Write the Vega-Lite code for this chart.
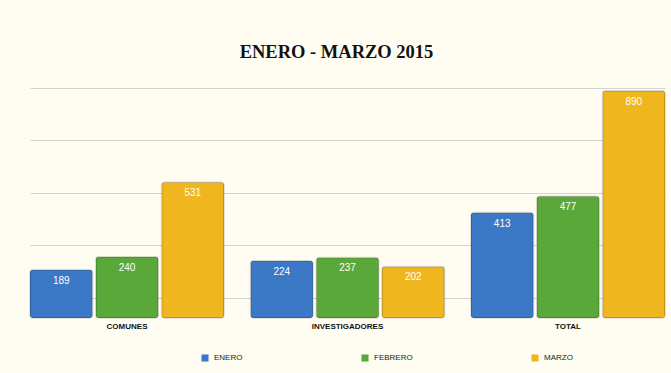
{
  "$schema": "https://vega.github.io/schema/vega-lite/v6.json",
  "width": 635,
  "height": 235,
  "autosize": {"type": "none"},
  "padding": {"left": 30, "top": 83, "right": 6, "bottom": 55},
  "background": "#fffdf2",
  "title": {
    "text": "ENERO - MARZO 2015",
    "font": "Liberation Serif",
    "fontSize": 18.5,
    "fontWeight": "bold",
    "color": "#111111",
    "anchor": "middle",
    "baseline": "alphabetic",
    "offset": 7,
    "dx": -11
  },
  "data": {
    "values": [
      {"categoria": "COMUNES", "mes": "ENERO", "valor": 189},
      {"categoria": "COMUNES", "mes": "FEBRERO", "valor": 240},
      {"categoria": "COMUNES", "mes": "MARZO", "valor": 531},
      {"categoria": "INVESTIGADORES", "mes": "ENERO", "valor": 224},
      {"categoria": "INVESTIGADORES", "mes": "FEBRERO", "valor": 237},
      {"categoria": "INVESTIGADORES", "mes": "MARZO", "valor": 202},
      {"categoria": "TOTAL", "mes": "ENERO", "valor": 413},
      {"categoria": "TOTAL", "mes": "FEBRERO", "valor": 477},
      {"categoria": "TOTAL", "mes": "MARZO", "valor": 890}
    ]
  },
  "encoding": {
    "x": {
      "field": "categoria",
      "type": "nominal",
      "sort": ["COMUNES", "INVESTIGADORES", "TOTAL"],
      "scale": {"paddingInner": 0.12, "paddingOuter": 0},
      "axis": {
        "title": null,
        "domain": false,
        "ticks": false,
        "labelAngle": 0,
        "labelFont": "Liberation Sans",
        "labelFontSize": 8,
        "labelFontWeight": "bold",
        "labelColor": "#111111",
        "labelPadding": 4
      }
    },
    "xOffset": {
      "field": "mes",
      "type": "nominal",
      "sort": ["ENERO", "FEBRERO", "MARZO"],
      "scale": {"paddingInner": 0.05}
    },
    "y": {
      "field": "valor",
      "type": "quantitative",
      "scale": {"domain": [0, 920], "nice": false},
      "axis": {
        "title": null,
        "domain": false,
        "ticks": false,
        "labels": false,
        "values": [80, 285, 490, 695, 900],
        "grid": true,
        "gridColor": "#d2d2d2",
        "gridWidth": 1
      }
    }
  },
  "layer": [
    {
      "mark": {"type": "bar", "cornerRadius": 3, "stroke": "#00000022", "strokeWidth": 1.5},
      "encoding": {
        "color": {
          "field": "mes",
          "type": "nominal",
          "sort": ["ENERO", "FEBRERO", "MARZO"],
          "scale": {"domain": ["ENERO", "FEBRERO", "MARZO"], "range": ["#3b78c6", "#5aa83a", "#f0b61e"]},
          "legend": {
            "title": null,
            "orient": "none",
            "legendX": 171,
            "legendY": 271,
            "direction": "horizontal",
            "columns": 3,
            "columnPadding": 118,
            "symbolType": "square",
            "symbolSize": 50,
            "symbolStrokeWidth": 0,
            "labelFont": "Liberation Sans",
            "labelFontSize": 8,
            "labelColor": "#222222",
            "labelOffset": 5
          }
        }
      }
    },
    {
      "mark": {"type": "text", "baseline": "top", "dy": 6, "color": "#ffffff", "font": "Liberation Sans", "fontSize": 10},
      "encoding": {
        "text": {"field": "valor", "type": "quantitative"}
      }
    }
  ],
  "config": {"view": {"stroke": null}}
}
